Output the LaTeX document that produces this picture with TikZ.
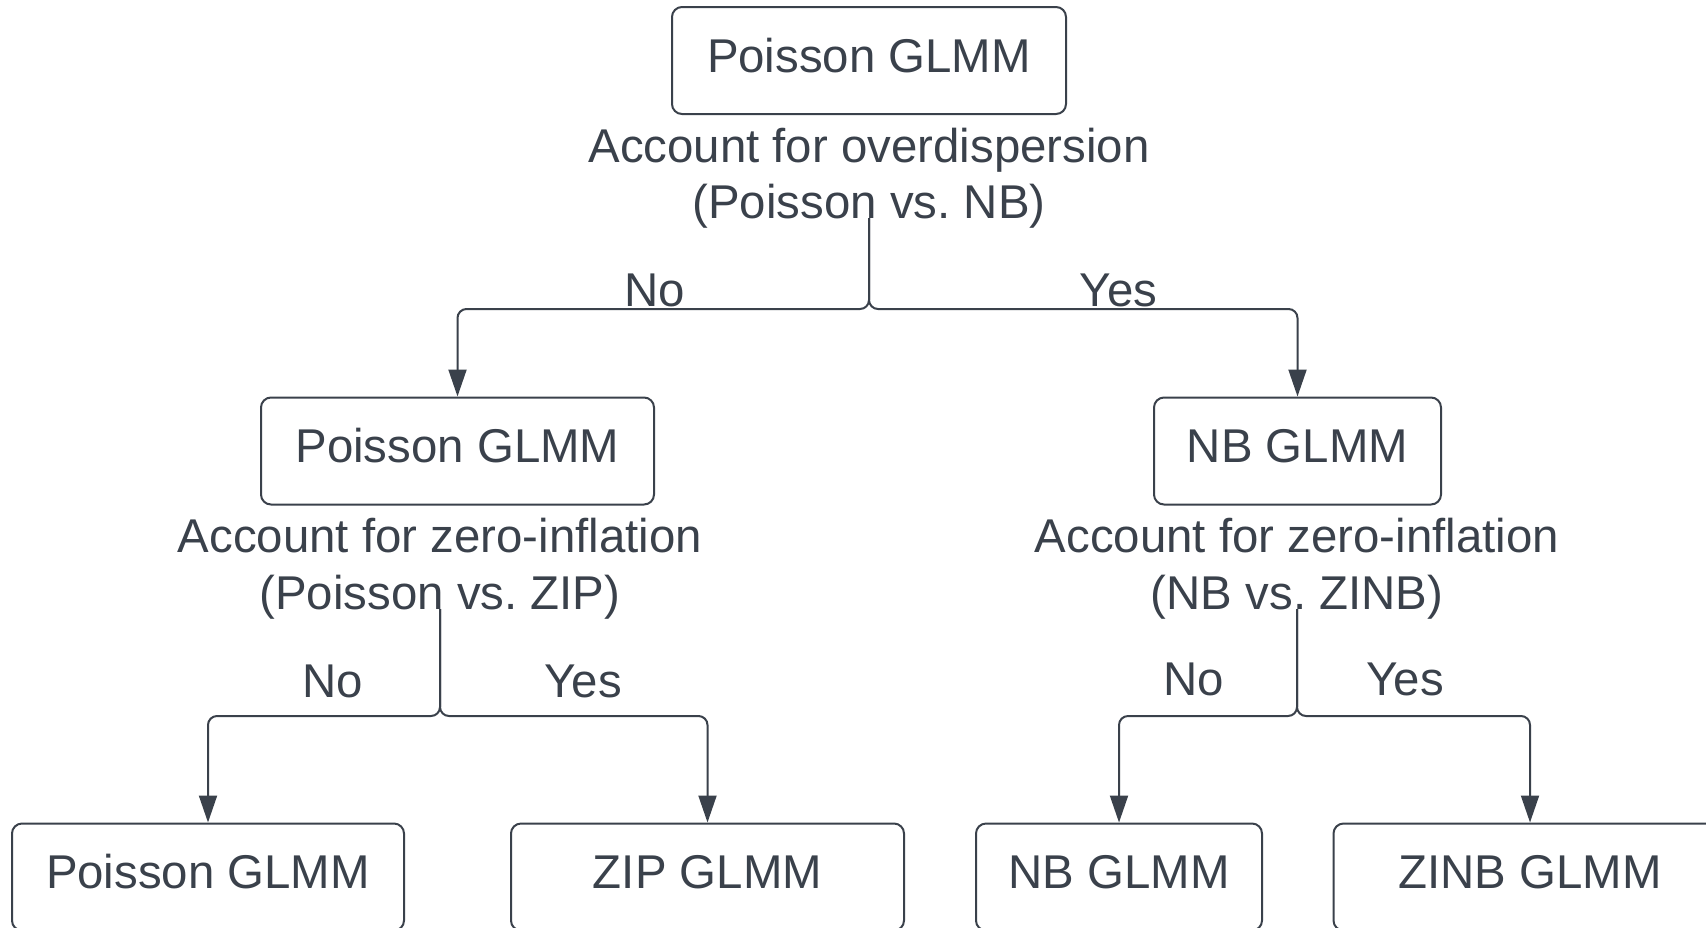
\documentclass[tikz,border=0pt]{standalone}
\usepackage{fontspec}
\setmainfont{Liberation Sans}
\usetikzlibrary{arrows.meta}
\definecolor{ink}{RGB}{58,65,75}
\begin{document}
\frenchspacing
\begin{tikzpicture}[x=0.5pt,y=-0.5pt,
  font=\fontsize{23.7}{28}\selectfont, text=ink,
  box/.style={draw=ink, line width=1pt, rounded corners=5pt, minimum height=53.5pt,
    text height=17pt, text depth=5.5pt, inner sep=0pt},
  lbl/.style={anchor=base, inner sep=0pt, text=ink},
  conn/.style={draw=ink, line width=1pt, rounded corners=4.5pt,
    -{Triangle[length=13.5pt,width=9pt]}}]
\useasboundingbox (0,0) rectangle (1706,927);
\clip (0,0) rectangle (1706,927);
% boxes
\node[box, minimum width=197pt] (top) at (869,60.5) {Poisson GLMM};
\node[box, minimum width=196.5pt] (m1) at (457.5,451) {Poisson GLMM};
\node[box, minimum width=143.5pt] (m2) at (1297.5,451) {NB GLMM};
\node[box, minimum width=196pt] (b1) at (208,877) {Poisson GLMM};
\node[box, minimum width=196.5pt] (b2) at (707.5,877) {ZIP GLMM};
\node[box, minimum width=143pt] (b3) at (1119,877) {NB GLMM};
\node[box, minimum width=196.5pt] (b4) at (1530,877) {ZINB GLMM};
% question texts
\node[lbl] (q1a) at (869,162) {Account for overdispersion};
\node[lbl] (q1b) at (869,218) {(Poisson vs.\ NB)};
\node[lbl] (q2a) at (440,552) {Account for zero-inflation};
\node[lbl] (q2b) at (440,609) {(Poisson vs.\ ZIP)};
\node[lbl] (q3a) at (1297,552) {Account for zero-inflation};
\node[lbl] (q3b) at (1297,609) {(NB vs.\ ZINB)};
% yes/no labels
\node[lbl] (n1) at (655,306) {No};
\node[lbl] (y1) at (1118.5,306) {Yes};
\node[lbl] (n2) at (333,697) {No};
\node[lbl] (y2) at (583,697) {Yes};
\node[lbl] (n3) at (1193.5,695) {No};
\node[lbl] (y3) at (1405,695) {Yes};
% connectors
\draw[conn] (q1b.base) -- ++(0,91) -| (m1.north);
\draw[conn] (q1b.base) -- ++(0,91) -| (m2.north);
\draw[conn] (q2b.base) -- ++(0,107) -| (b1.north);
\draw[conn] (q2b.base) -- ++(0,107) -| (b2.north);
\draw[conn] (q3b.base) -- ++(0,107) -| (b3.north);
\draw[conn] (q3b.base) -- ++(0,107) -| (b4.north);
\end{tikzpicture}
\end{document}
